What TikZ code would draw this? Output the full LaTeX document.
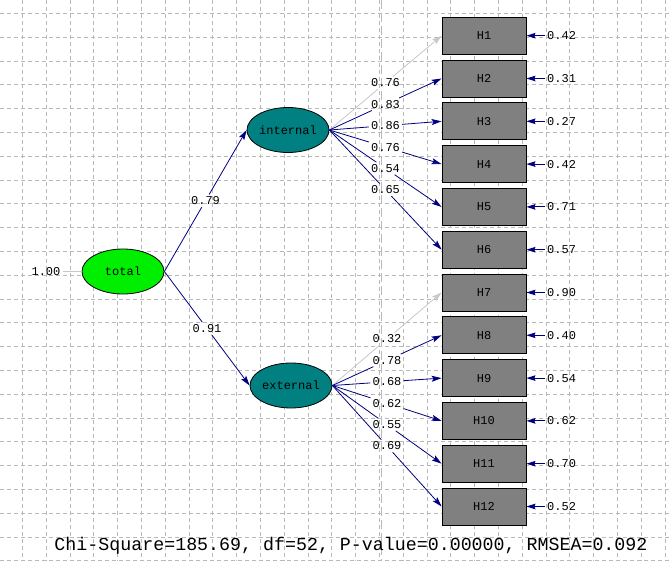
\documentclass[tikz,border=0pt]{standalone}
\usepackage{fontspec}
\setmonofont{Liberation Mono}
\usetikzlibrary{arrows.meta,shapes.geometric}
\definecolor{navy}{RGB}{0,0,128}
\definecolor{fixgray}{RGB}{200,200,200}
\definecolor{gridgray}{RGB}{185,185,185}
\definecolor{tealfill}{RGB}{0,128,128}
\definecolor{greenfill}{RGB}{0,238,0}
\definecolor{boxgray}{RGB}{128,128,128}
\newcommand\mkload[5]{%
  \path (#1) -- node[lbl] (#2) {#3} (#4);
  \draw[#5] (#1) -- (#2);
  \draw[#5, arrowtip] (#2) -- (#4);
}
\begin{document}
\begin{tikzpicture}[x=1pt,y=-1pt,
  lbl/.style={font=\ttfamily\fontsize{12}{12}\selectfont, inner sep=2pt},
  obs/.style={draw=black, line width=0.8pt, fill=boxgray, minimum width=84pt, minimum height=37pt, inner sep=0pt, font=\ttfamily\fontsize{12}{12}\selectfont},
  lat/.style={ellipse, draw=black, line width=0.8pt, minimum width=82pt, minimum height=45pt, inner sep=0pt, font=\ttfamily\fontsize{12}{12}\selectfont},
  conn/.style={draw=navy, line width=0.8pt},
  fix/.style={draw=fixgray, line width=0.8pt},
  arrowtip/.style={-{Stealth[length=10pt,width=6pt,inset=2pt]}},
  errtip/.style={-{Stealth[length=9pt,width=5.5pt,inset=1pt]}},
  gridline/.style={draw=gridgray, line width=0.6pt, dash pattern=on 4pt off 3pt},
]
\useasboundingbox (0,0) rectangle (669,561);
\fill[white] (0,0) rectangle (669,561);
\begin{scope}
\clip (0,0) rectangle (669,561);
\foreach \k in {0,...,27} \draw[gridline] ({22.2+23.8*\k},0) -- ({22.2+23.8*\k},561);
\foreach \k in {0,...,23} \draw[gridline] (0,{13.3+23.8*\k}) -- (669,{13.3+23.8*\k});
\draw[draw=gridgray, line width=0.6pt, dash pattern=on 9pt off 4pt] (381,0) -- (381,561);
\end{scope}

% latent variables
\node[lat, fill=greenfill] (total) at (123,271.5) {total};
\node[lat, fill=tealfill] (internal) at (288,130) {internal};
\node[lat, fill=tealfill] (external) at (291,385.5) {external};

% variance of total
\node[lbl] (v) at (46,271.5) {1.00};
\draw[fix] (v) -- (total);

% observed variables
\foreach \i in {1,...,12} \node[obs] (h\i) at (484,{35.7+42.8*(\i-1)}) {H\i};

% error variances
\foreach \i/\e in {1/0.42,2/0.31,3/0.27,4/0.42,5/0.71,6/0.57,7/0.90,8/0.40,9/0.54,10/0.62,11/0.70,12/0.52}{
  \node[lbl, anchor=west] (e\i) at (545,{35.7+42.8*(\i-1)}) {\e};
  \draw[conn, line width=1pt, errtip] (e\i) -- (h\i);
}

% second order
\mkload{total.east}{g1}{0.79}{internal.west}{conn}
\mkload{total.east}{g2}{0.91}{external.west}{conn}

% internal loadings
\mkload{internal.east}{a1}{0.76}{h1.west}{fix}
\mkload{internal.east}{a2}{0.83}{h2.west}{conn}
\mkload{internal.east}{a3}{0.86}{h3.west}{conn}
\mkload{internal.east}{a4}{0.76}{h4.west}{conn}
\mkload{internal.east}{a5}{0.54}{h5.west}{conn}
\mkload{internal.east}{a6}{0.65}{h6.west}{conn}

% external loadings
\mkload{external.east}{b7}{0.32}{h7.west}{fix}
\mkload{external.east}{b8}{0.78}{h8.west}{conn}
\mkload{external.east}{b9}{0.68}{h9.west}{conn}
\mkload{external.east}{b10}{0.62}{h10.west}{conn}
\mkload{external.east}{b11}{0.55}{h11.west}{conn}
\mkload{external.east}{b12}{0.69}{h12.west}{conn}

% fit statistics
\node[font=\ttfamily\fontsize{18.3}{18.3}\selectfont, inner sep=0pt, anchor=base] (stats) at (351,550.7) {Chi-Square=185.69, df=52, P-value=0.00000, RMSEA=0.092};
\end{tikzpicture}
\end{document}
